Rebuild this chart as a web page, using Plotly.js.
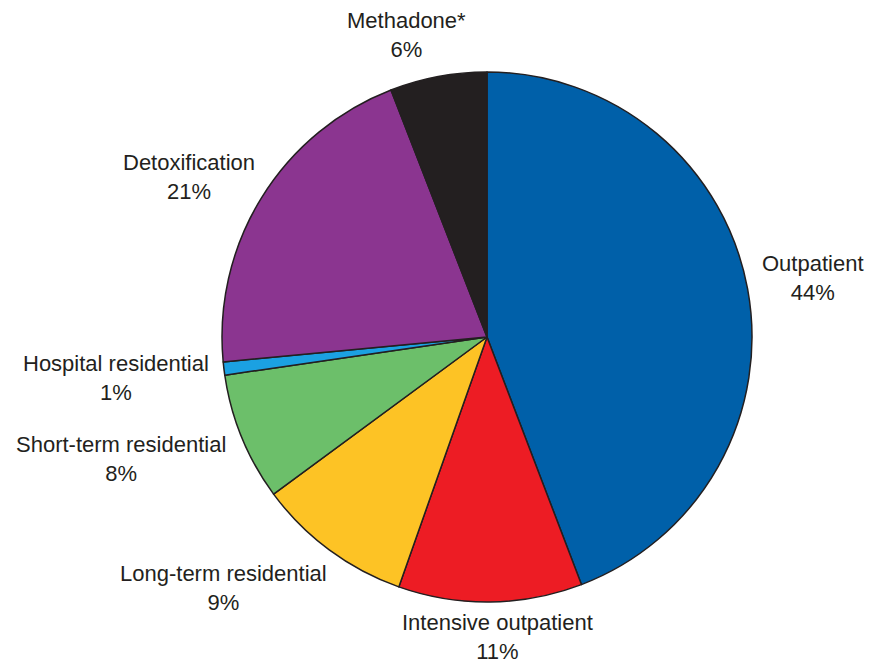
<!DOCTYPE html>
<html>
<head>
<meta charset="utf-8">
<script src="https://cdn.plot.ly/plotly-3.0.1.min.js"></script>
<style>html,body{margin:0;padding:0;background:#fff;}#chart{width:872px;height:665px;}</style>
</head>
<body>
<div id="chart"></div>
<script>
const categories = ["Outpatient", "Intensive outpatient", "Long-term residential", "Short-term residential", "Hospital residential", "Detoxification", "Methadone*"];
const shares = [44.2, 11.2, 9.5, 7.8, 0.8, 20.6, 5.9];
const shareLabels = ["44%", "11%", "9%", "8%", "1%", "21%", "6%"];
const sliceColors = ["#0060A9", "#ED1C24", "#FDC325", "#6CBF6A", "#1BA1E2", "#8B3590", "#231F20"];

// label placement (layout only, pixel centres of each two-line label)
const labelPlacement = [[813, 278], [498, 637], [223, 588], [121, 459], [116, 378], [189, 177], [406, 35]];

const W = 872, H = 665, cx = 487, cy = 337, R = 265;
const labelFont = {family: 'Liberation Sans, Arial, sans-serif', size: 22, color: '#231F20'};

const annotations = categories.map((c, i) => ({
  text: c + '<br>' + shareLabels[i],
  xref: 'paper', yref: 'paper',
  x: labelPlacement[i][0] / W, y: 1 - labelPlacement[i][1] / H,
  xanchor: 'center', yanchor: 'middle',
  showarrow: false, align: 'center',
  font: labelFont
}));

Plotly.newPlot('chart', [{
  type: 'pie',
  labels: categories,
  values: shares,
  text: shareLabels,
  sort: false,
  direction: 'clockwise',
  rotation: 0,
  marker: {colors: sliceColors, line: {color: '#231F20', width: 1.5}},
  textinfo: 'none',
  hoverinfo: 'label+text',
  domain: {x: [(cx - R) / W, (cx + R) / W], y: [(H - cy - R) / H, (H - cy + R) / H]}
}], {
  width: W, height: H,
  margin: {l: 0, r: 0, t: 0, b: 0},
  showlegend: false,
  paper_bgcolor: '#fff',
  annotations: annotations
}, {displayModeBar: false, staticPlot: true});
</script>
</body>
</html>
